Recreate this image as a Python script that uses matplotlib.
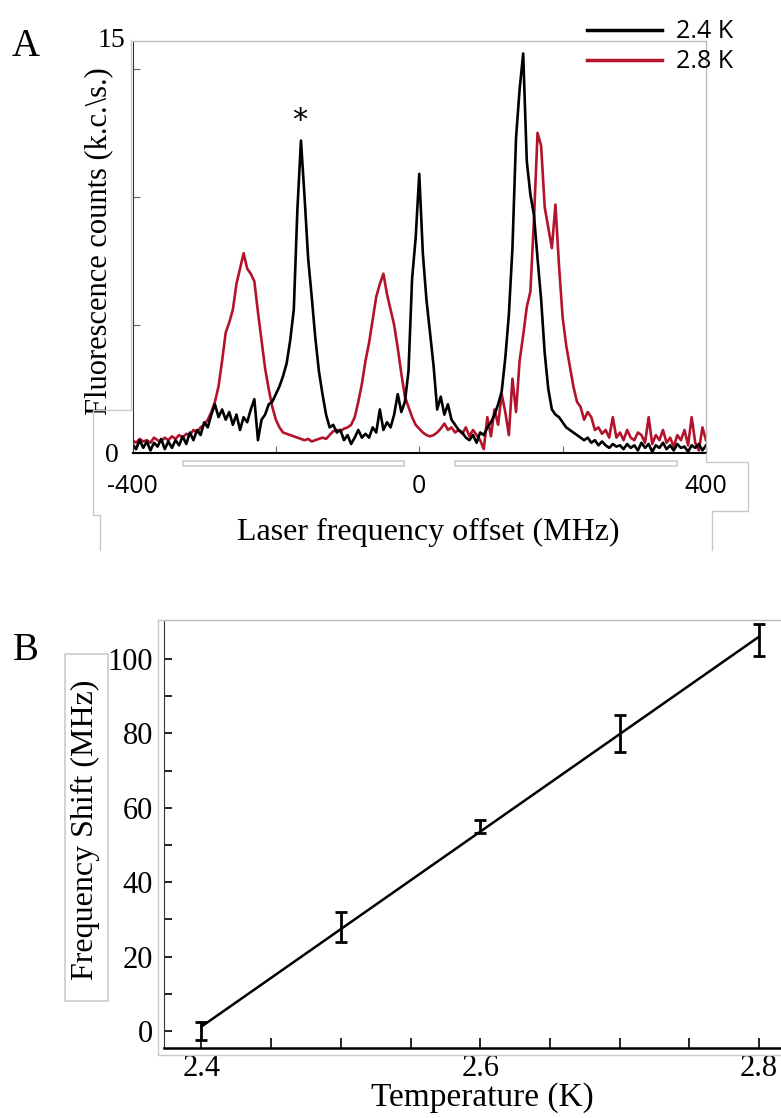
import numpy as np
import matplotlib.pyplot as plt
from matplotlib.lines import Line2D
from matplotlib.patches import Rectangle

plt.rcParams['font.family'] = ['Liberation Serif', 'DejaVu Serif']

# ---- panel A: fluorescence spectra (k.c./s.) vs laser offset (MHz) ----
freq = np.arange(-400, 401, 5)
counts_24K = [0.35, 0.15, 0.5, 0.2, 0.45, 0.1, 0.4, 0.25, 0.55, 0.15,
              0.45, 0.2, 0.5, 0.3, 0.65, 0.35, 0.8, 0.5, 0.9, 0.7,
              1.2, 1.0, 1.5, 1.9, 1.4, 1.7, 1.3, 1.6, 1.1, 1.5,
              0.9, 1.4, 1.2, 1.7, 2.1, 0.5, 1.3, 1.5, 1.9, 2.0,
              2.3, 2.6, 3.0, 3.5, 4.4, 5.6, 9.5, 12.2, 10.0, 7.6,
              6.1, 4.5, 3.2, 2.3, 1.5, 1.0, 1.1, 0.8, 0.9, 0.5,
              0.7, 0.35, 0.6, 0.9, 0.6, 0.75, 0.6, 1.0, 0.8, 1.7,
              0.9, 1.2, 1.0, 1.5, 2.3, 1.6, 2.0, 3.2, 6.8, 8.4,
              10.9, 7.8, 6.0, 4.7, 3.4, 1.7, 2.2, 1.5, 1.9, 1.3,
              1.1, 0.9, 0.8, 0.6, 0.5, 0.7, 0.4, 0.8, 0.7, 1.0,
              1.2, 1.5, 1.9, 2.4, 3.7, 5.4, 8.0, 12.3, 14.2, 15.6,
              11.4, 10.1, 9.3, 7.6, 6.0, 3.9, 2.5, 1.7, 1.5, 1.4,
              1.2, 1.0, 0.9, 0.8, 0.7, 0.6, 0.5, 0.6, 0.4, 0.5,
              0.3, 0.45, 0.3, 0.2, 0.35, 0.25, 0.3, 0.15, 0.35, 0.2,
              0.3, 0.1, 0.4, 0.2, 0.35, 0.05, 0.3, 0.2, 0.4, 0.15,
              0.3, 0.1, 0.35, 0.2, 0.25, 0.05, 0.3, 0.2, 0.35, 0.1, 0.3]
counts_28K = [0.5, 0.4, 0.55, 0.45, 0.5, 0.4, 0.6, 0.5, 0.45, 0.6,
              0.5, 0.65, 0.55, 0.7, 0.6, 0.75, 0.7, 0.9, 0.8, 1.0,
              1.1, 1.3, 1.6, 2.0, 2.6, 3.6, 4.7, 5.1, 5.6, 6.6,
              7.2, 7.8, 7.2, 7.0, 6.7, 5.5, 4.4, 3.3, 2.5, 1.8,
              1.3, 1.0, 0.8, 0.75, 0.7, 0.65, 0.6, 0.55, 0.5, 0.55,
              0.45, 0.5, 0.55, 0.6, 0.55, 0.7, 0.85, 0.9, 0.85, 0.95,
              1.0, 1.1, 1.4, 2.0, 2.7, 3.6, 4.3, 5.2, 6.1, 6.6,
              7.0, 6.2, 5.6, 5.0, 4.1, 3.1, 2.2, 1.8, 1.4, 1.1,
              0.95, 0.8, 0.7, 0.65, 0.7, 0.8, 0.95, 1.15, 0.9, 1.0,
              0.8, 0.9, 0.75, 1.0, 0.65, 0.9, 0.7, 0.5, 0.15, 1.4,
              0.65, 1.7, 1.1, 2.3, 1.6, 0.7, 2.9, 1.6, 3.6, 4.6,
              5.7, 6.3, 9.1, 12.5, 12.0, 9.6, 8.8, 8.0, 9.7, 7.3,
              5.3, 4.2, 3.4, 2.6, 2.0, 1.8, 1.3, 1.6, 1.4, 0.9,
              1.0, 0.75, 0.9, 0.6, 1.4, 0.6, 0.8, 0.5, 0.9, 0.6,
              0.5, 0.8, 0.7, 0.4, 1.4, 0.35, 0.7, 0.5, 0.9, 0.4,
              0.6, 0.25, 0.7, 0.5, 0.9, 0.3, 1.4, 0.4, 0.1, 1.0, 0.5]
a_xticks = [-400, -200, 0, 200, 400]
a_xticklabels = ['-400', '', '0', '', '400']
a_yticks = [0, 5, 10, 15]
a_yticklabels = ['0', '', '', '']

# ---- panel B: frequency shift vs temperature ----
temps = [2.4, 2.5, 2.6, 2.7, 2.8]
shift = [0, 28, 55, 80, 105]
shift_err = [2.3, 4.0, 1.8, 5.0, 4.3]
b_xticks = [2.4, 2.45, 2.5, 2.55, 2.6, 2.65, 2.7, 2.75, 2.8]
b_xticklabels = ['2.4', '', '', '', '2.6', '', '', '', '2.8']
b_yticks = [0, 10, 20, 30, 40, 50, 60, 70, 80, 90, 100]
b_yticklabels = ['0', '', '20', '', '40', '', '60', '', '80', '', '100']

W, H = 781, 1118
fig = plt.figure(figsize=(W / 100, H / 100), dpi=100)
grey = '#c8c8c8'
red = '#b3142c'


def gline(xs, ys):
    fig.add_artist(Line2D([x / W for x in xs], [1 - y / H for y in ys],
                          color=grey, lw=1.0, transform=fig.transFigure))


def gbox(x0, y0, x1, y1, face='none'):
    fig.add_artist(Rectangle((x0 / W, 1 - y1 / H), (x1 - x0) / W, (y1 - y0) / H,
                             facecolor=face, edgecolor=grey, lw=1.1,
                             transform=fig.transFigure))


# ---------------- A ----------------
axA = fig.add_axes([132.5 / W, 1 - 453 / H, (706 - 132.5) / W, (453 - 40.7) / H])
axA.plot(freq, counts_28K, color=red, lw=1.9)
axA.plot(freq, counts_24K, color='black', lw=1.9)
axA.set_xlim(-400, 400)
axA.set_ylim(0, 16.1)
axA.set_xticks(a_xticks)
axA.set_xticklabels(a_xticklabels, family='Open Sans', fontsize=18)
axA.set_yticks(a_yticks)
axA.set_yticklabels(a_yticklabels, fontsize=20)
axA.tick_params(axis='x', direction='in', length=5, color='#666666', pad=15)
axA.tick_params(axis='y', direction='in', length=5, color='#666666', pad=10)
axA.text(-0.037, 1.0, '15', transform=axA.transAxes, fontsize=20,
         ha='center', va='center')
for s in ['top', 'right']:
    axA.spines[s].set_color('#bbbbbb')
    axA.spines[s].set_linewidth(1.0)
axA.spines['left'].set_color('#333333')
axA.spines['bottom'].set_color('black')
axA.spines['bottom'].set_linewidth(1.5)

axA.set_ylabel(r'Fluorescence counts (k.c.\s.)', fontsize=22, va='center')
axA.yaxis.set_label_coords(-0.059, 0.514)
axA.set_xlabel('Laser frequency offset (MHz)', fontsize=23, va='center')
axA.xaxis.set_label_coords(0.515, -0.192)

axA.text(-167, 13.0, '*', fontsize=22, family='DejaVu Sans',
         ha='center', va='center')

leg_handles = [Line2D([], [], color='black', lw=2.5),
               Line2D([], [], color=red, lw=2.5)]
fig.legend(leg_handles, ['2.4 K', '2.8 K'], loc='upper left',
           bbox_to_anchor=(574 / W, 1 - 7 / H), frameon=False, borderpad=0,
           handlelength=3.0, handletextpad=0.6, labelspacing=0.2,
           prop={'family': 'Open Sans', 'size': 18})

# composite-figure outlines around panel A
gline([131, 131, 93, 93, 100, 100], [40, 410, 410, 515, 515, 550])
gline([706, 706, 748, 748, 712, 712], [453, 462, 462, 511, 511, 550])
gbox(183, 461, 404, 466, face='white')
gbox(455, 461, 677, 466, face='white')

fig.text(26 / W, 1 - 46 / H, 'A', fontsize=28, ha='center', va='center')

# ---------------- B ----------------
axB = fig.add_axes([164 / W, 1 - 1048 / H, (781 - 164) / W, (1048 - 620) / H])
fit = np.polyfit(temps, shift, 1)
t_line = [temps[0], temps[-1]]
axB.plot(t_line, np.polyval(fit, t_line), color='black', lw=1.8)
axB.errorbar(temps, shift, yerr=shift_err, fmt='none', ecolor='black',
             elinewidth=2, capsize=4.5, capthick=2)
axB.set_xlim(2.3731, 2.8158)
axB.set_ylim(-4.57, 110.5)
axB.set_xticks(b_xticks)
axB.set_xticklabels(b_xticklabels, fontsize=22)
axB.set_yticks(b_yticks)
axB.set_yticklabels(b_yticklabels, fontsize=22)
axB.tick_params(axis='x', direction='in', length=7, width=1.2, pad=4)
axB.tick_params(axis='y', direction='in', length=6, width=1.2, pad=8)
axB.spines['right'].set_visible(False)
axB.spines['top'].set_color('#bbbbbb')
axB.spines['top'].set_linewidth(1.0)
axB.spines['left'].set_color('#333333')
axB.spines['bottom'].set_linewidth(1.8)

axB.set_ylabel('Frequency Shift (MHz)', fontsize=23, va='center')
axB.yaxis.set_label_coords(-0.128, 0.509)
axB.set_xlabel('Temperature (K)', fontsize=24, va='center')
axB.xaxis.set_label_coords(0.516, -0.117)

gline([158, 158, 781], [620, 1055, 1055])
gline([158, 164], [620, 620])
gbox(65, 654, 107.5, 1001)

fig.text(26 / W, 1 - 650 / H, 'B', fontsize=28, ha='center', va='center')

fig.savefig('out.png', dpi=100)
